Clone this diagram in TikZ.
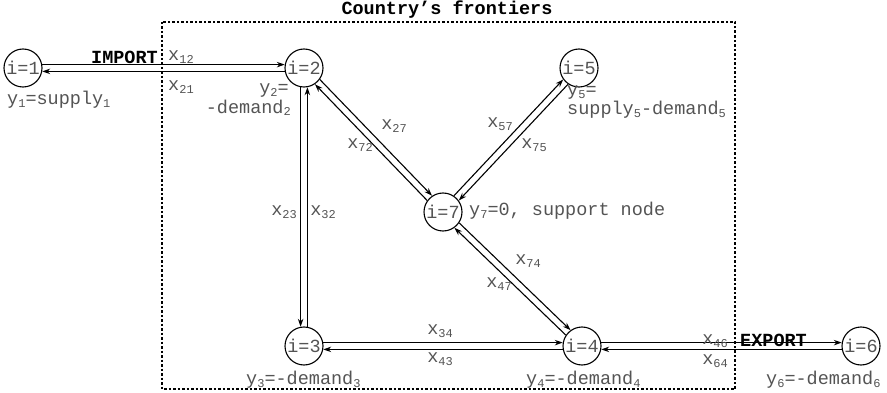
\documentclass[tikz,border=0pt]{standalone}
\usepackage{fontspec}
\setmainfont{Liberation Mono}
\usetikzlibrary{arrows.meta}
\definecolor{lbl}{gray}{0.33}
\newcommand\lblfont{\fontsize{18.5}{20}\selectfont}
\newcommand\sbs[1]{\raisebox{-2.5pt}{\fontsize{12}{12}\selectfont #1}}
\begin{document}
\begin{tikzpicture}[x=1pt,y=-1pt,
  nd/.style={circle,draw,line width=1.1pt,minimum size=38pt,inner sep=0pt,text=lbl,font=\lblfont},
  lb/.style={text=lbl,font=\lblfont,inner sep=0pt},
  bl/.style={font=\lblfont\bfseries,inner sep=0pt},
  ar/.style={-{Stealth[length=8pt,width=5.5pt]},line width=1.1pt},
  frame/.style={line width=1.2pt,dash pattern=on 2.5pt off 2pt}]
\useasboundingbox (0,0) rectangle (887,393);
% frame
\draw[frame] (162,22) rectangle (735,389);
\node[bl] (title) at (447,10) {Country's frontiers};
% nodes
\node[nd] (n1) at (23,68) {i=1};
\node[nd] (n2) at (304,68) {i=2};
\node[nd] (n5) at (579,68) {i=5};
\node[nd] (n7) at (443,212) {i=7};
\node[nd] (n3) at (304,346) {i=3};
\node[nd] (n4) at (582,346) {i=4};
\node[nd] (n6) at (861,346) {i=6};
% arrows
\draw[ar] (n1.10) -- (n2.170);
\draw[ar] (n2.190) -- (n1.-10);
\draw[ar] (n2.-100) -- (n3.100);
\draw[ar] (n3.80) -- (n2.-80);
\draw[ar] (n2.-36) -- (n7.124);
\draw[ar] (n7.144) -- (n2.-56);
\draw[ar] (n7.56) -- (n5.216);
\draw[ar] (n5.236) -- (n7.36);
\draw[ar] (n7.-34) -- (n4.126);
\draw[ar] (n4.146) -- (n7.-54);
\draw[ar] (n3.10) -- (n4.170);
\draw[ar] (n4.190) -- (n3.-10);
\draw[ar] (n4.10) -- (n6.170);
\draw[ar] (n6.190) -- (n4.-10);
% edge labels
\node[bl,anchor=east] (imp) at (158,57) {IMPORT};
\node[lb] (l12) at (181,57) {x\sbs{12}};
\node[lb] (l21) at (181,87) {x\sbs{21}};
\node[lb] (l23) at (284,212) {x\sbs{23}};
\node[lb] (l32) at (323,212) {x\sbs{32}};
\node[lb] (l27) at (394,126) {x\sbs{27}};
\node[lb] (l72) at (360,145) {x\sbs{72}};
\node[lb] (l57) at (500,124) {x\sbs{57}};
\node[lb] (l75) at (534,145) {x\sbs{75}};
\node[lb] (l74) at (528,261) {x\sbs{74}};
\node[lb] (l47) at (499,284) {x\sbs{47}};
\node[lb] (l34) at (440,331) {x\sbs{34}};
\node[lb] (l43) at (440,359) {x\sbs{43}};
\node[lb,anchor=east] (l46) at (728,341) {x\sbs{46}};
\node[lb,anchor=east] (l64) at (728,361) {x\sbs{64}};
\node[bl,anchor=west] (exp) at (740,340) {EXPORT};
% node labels
\node[lb,anchor=west] (y1) at (7,100) {y\sbs{1}=supply\sbs{1}};
\node[lb,anchor=east] (y2a) at (289,91) {y\sbs{2}=};
\node[lb,anchor=east] (y2b) at (291,108) {-demand\sbs{2}};
\node[lb,anchor=west] (y5a) at (567,93) {y\sbs{5}=};
\node[lb,anchor=west] (y5b) at (567,110) {supply\sbs{5}-demand\sbs{5}};
\node[lb,anchor=west] (y7) at (469,211) {y\sbs{7}=0, support node};
\node[lb,anchor=west] (y3) at (246,380) {y\sbs{3}=-demand\sbs{3}};
\node[lb,anchor=west] (y4) at (526,380) {y\sbs{4}=-demand\sbs{4}};
\node[lb,anchor=west] (y6) at (766,380) {y\sbs{6}=-demand\sbs{6}};
\end{tikzpicture}
\end{document}
